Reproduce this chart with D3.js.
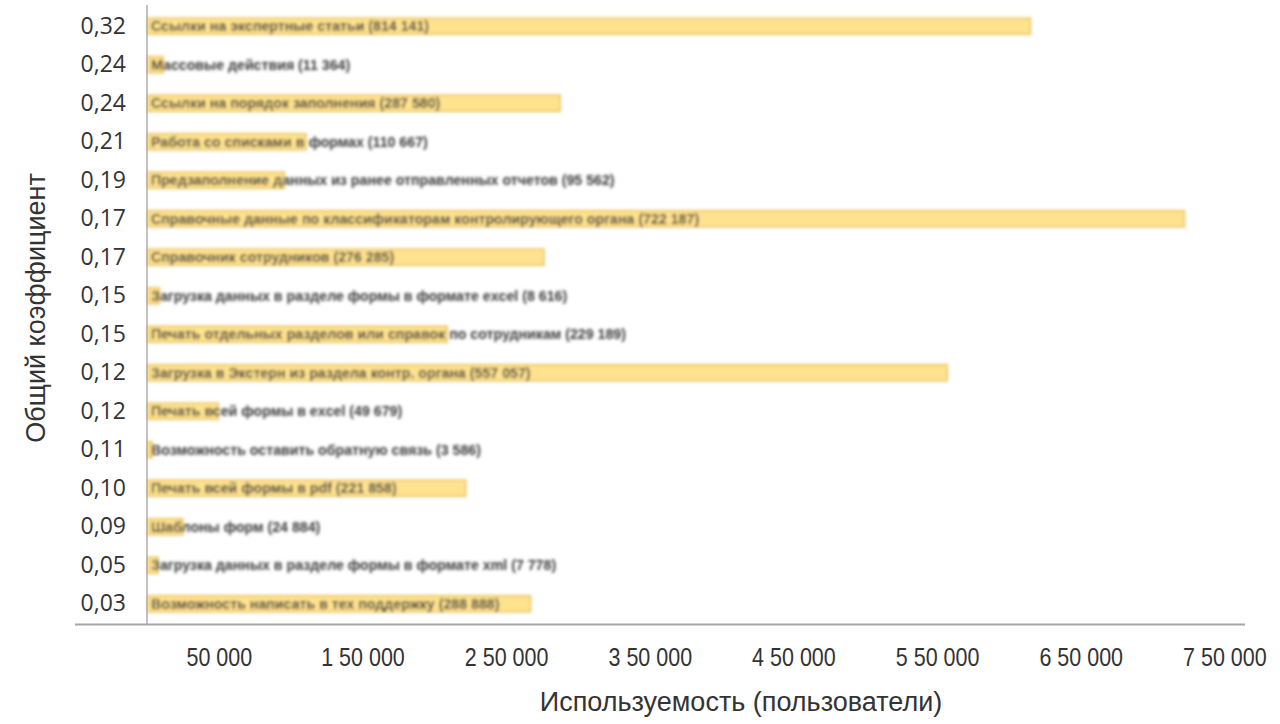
<!DOCTYPE html>
<html><head><meta charset="utf-8">
<script src="https://cdn.jsdelivr.net/npm/d3@7"></script>
<style>
html,body{margin:0;padding:0;background:#fff;}
svg{display:block;}
</style></head>
<body>
<svg id="chart" width="1280" height="724"></svg>
<script>
// ---- data ----
const categories = [
  "Ссылки на экспертные статьи (814 141)",
  "Массовые действия (11 364)",
  "Ссылки на порядок заполнения (287 580)",
  "Работа со списками в формах (110 667)",
  "Предзаполнение данных из ранее отправленных отчетов (95 562)",
  "Справочные данные по классификаторам контролирующего органа (722 187)",
  "Справочник сотрудников (276 285)",
  "Загрузка данных в разделе формы в формате excel (8 616)",
  "Печать отдельных разделов или справок по сотрудникам (229 189)",
  "Загрузка в Экстерн из раздела контр. органа (557 057)",
  "Печать всей формы в excel (49 679)",
  "Возможность оставить обратную связь (3 586)",
  "Печать всей формы в pdf (221 858)",
  "Шаблоны форм (24 884)",
  "Загрузка данных в разделе формы в формате xml (7 778)",
  "Возможность написать в тех поддержку (288 888)"
];
const usage = [615000, 11364, 287580, 110667, 95562, 722187, 276285, 8616,
               209000, 557057, 49679, 3586, 221858, 24884, 7778, 267000];
const coefLabels = ["0,32","0,24","0,24","0,21","0,19","0,17","0,17","0,15",
                    "0,15","0,12","0,12","0,11","0,10","0,09","0,05","0,03"];
const xTickValues = [50000,150000,250000,350000,450000,550000,650000,750000];
const xTickLabels = ["50 000","1 50 000","2 50 000","3 50 000","4 50 000","5 50 000","6 50 000","7 50 000"];
const xTitle = "Используемость (пользователи)";
const yTitle = "Общий коэффициент";

// ---- chart ----
const svg = d3.select("#chart");
const x0 = 147, yTop = 7, yBottom = 623;
const x = d3.scaleLinear().domain([0, 750000]).range([x0, x0 + 750000 * 0.0014365]);
const y = d3.scaleBand().domain(d3.range(categories.length)).range([yTop, yBottom])
  .paddingInner(0.58).paddingOuter(0.29);

const defs = svg.append("defs");
defs.append("filter").attr("id","blur").attr("x","-5%").attr("y","-50%").attr("width","110%").attr("height","200%")
  .append("feGaussianBlur").attr("stdDeviation", 1.8);

// bars + labels (blurred like the reference)
const g = svg.append("g").attr("filter","url(#blur)");
g.selectAll("rect.bar").data(usage).join("rect")
  .attr("class","bar")
  .attr("x", x(0) + 1)
  .attr("y", (d,i) => y(i))
  .attr("width", d => Math.max(1, x(d) - x(0) - 1))
  .attr("height", y.bandwidth())
  .attr("fill", "#FFE28E")
  .attr("stroke", "#E9C25A")
  .attr("stroke-width", 1.5);
g.selectAll("text.lbl").data(categories).join("text")
  .attr("class","lbl")
  .attr("x", x(0) + 4)
  .attr("y", (d,i) => y(i) + y.bandwidth()/2)
  .attr("dy","0.36em")
  .attr("font-family","Liberation Sans, Arial, sans-serif")
  .attr("font-size", 14.2)
  .attr("font-weight", 700)
  .attr("fill", "#3a3a3a")
  .text(d => d);

// y axis (category coefficient labels)
const yAxis = d3.axisLeft(y).tickSize(0).tickPadding(0).tickFormat(i => coefLabels[i]);
const gy = svg.append("g").attr("transform", `translate(126,0)`).call(yAxis);
gy.select(".domain").remove();
gy.selectAll("text").attr("font-family","Open Sans, sans-serif").attr("font-size",23).attr("fill","#333");

// y axis line
svg.append("line").attr("x1", x0).attr("x2", x0).attr("y1", 5).attr("y2", 624)
  .attr("stroke","#9a9a9a").attr("stroke-width",1.2);

// x axis
const xAxis = d3.axisBottom(x).tickValues(xTickValues).tickSize(0).tickPadding(0)
  .tickFormat((d,i) => xTickLabels[i]);
const gx = svg.append("g").attr("transform", `translate(0,${yBottom + 43})`).call(xAxis);
gx.select(".domain").remove();
gx.selectAll("text").attr("font-family","Liberation Sans Narrow, Arial Narrow, sans-serif")
  .attr("font-size",25).attr("fill","#333").attr("dy","0")
  .attr("transform","scale(0.86,1)");

svg.append("line").attr("x1", 75).attr("x2", 1245).attr("y1", 624.5).attr("y2", 624.5)
  .attr("stroke","#a6a6a6").attr("stroke-width",2);

// titles
svg.append("text").attr("x", 741).attr("y", 711).attr("text-anchor","middle")
  .attr("font-family","Liberation Sans Narrow, Arial Narrow, sans-serif").attr("font-size",27).attr("fill","#333")
  .text(xTitle);
svg.append("text").attr("transform","translate(45,308) rotate(-90)").attr("text-anchor","middle")
  .attr("font-family","Liberation Sans Narrow, Arial Narrow, sans-serif").attr("font-size",27).attr("fill","#333")
  .text(yTitle);
</script>
</body></html>
